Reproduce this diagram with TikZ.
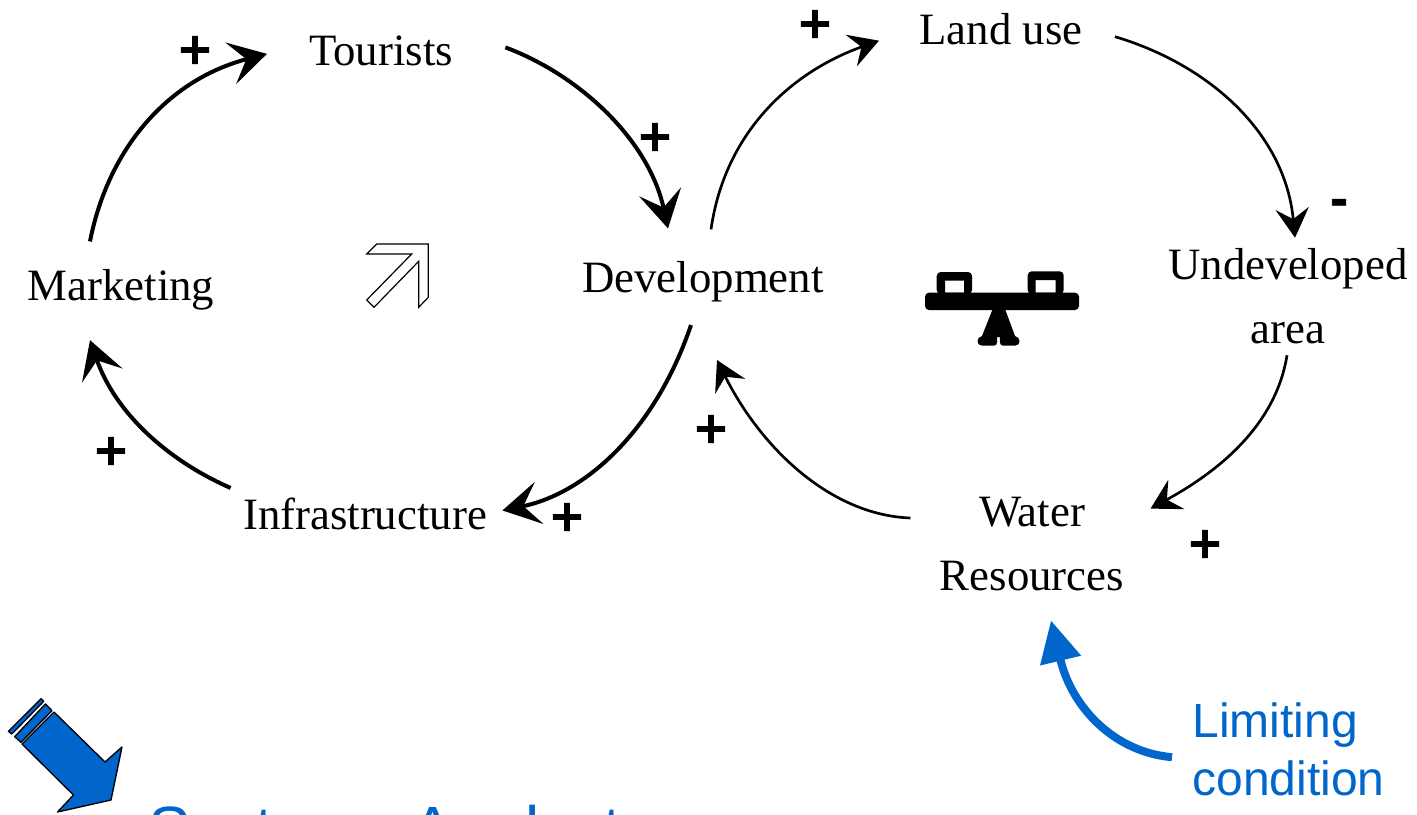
\documentclass[tikz,border=0pt]{standalone}
\usepackage{fontspec}
\setmainfont{Liberation Serif}
\newfontfamily\labelsans{Liberation Sans}
\newfontfamily\signsans[FakeBold=1.5]{DejaVu Sans}
\usetikzlibrary{arrows.meta}
\definecolor{limitblue}{RGB}{0,102,204}
\tikzset{every picture/.style={line width=0.75pt}}
\tikzset{
	varnode/.style={inner sep=0.75pt,font=\fontsize{33.6}{48}\selectfont,align=center},
	signnode/.style={inner sep=0pt,font=\signsans\bfseries\fontsize{33}{40}\selectfont},
	bluenode/.style={inner sep=0pt,text=limitblue,align=left},
	loopthick/.style={line width=3pt,-{Stealth[length=28pt,width=32pt,inset=12pt]}},
	loopthin/.style={line width=2pt,-{Stealth[length=22pt,width=25pt,inset=8pt]}}
}

\begin{document}
\begin{tikzpicture}[x=0.75pt,y=0.75pt,yscale=-1,xscale=1]
	\useasboundingbox (0,0) rectangle (1417,814);
	\clip (0,0) rectangle (1417,814);

	%Variables
	\node [varnode,anchor=base] (tourists) at (381,65) {Tourists};
	\node [varnode,anchor=base] (landuse) at (1001,44) {Land use};
	\node [varnode,anchor=base] (marketing) at (121,300) {Marketing};
	\node [varnode,anchor=base] (development) at (703,292) {Development};
	\node [varnode,anchor=base] (infrastructure) at (365,529) {Infrastructure};
	\node [varnode] (undeveloped) at (1288,296) {Undeveloped\\area};
	\node [varnode] (water) at (1032,544) {Water\\Resources};

	%Signs
	\node [signnode] (signa) at (195,50) {+};
	\node [signnode] (signb) at (655,137) {+};
	\node [signnode] (signc) at (815,24) {+};
	\node [signnode] (signd) at (111,451) {+};
	\node [signnode] (signe) at (567,517) {+};
	\node [signnode] (signf) at (711,429) {+};
	\node [signnode] (signg) at (1205,544) {+};
	\node [signnode] (signh) at (1339,207) {-};

	%Left loop
	\draw [loopthick] ([shift={(-31,-26)}]marketing.north) .. controls +(18,-92) and +(-100,26) .. ([shift={(-114,20)}]tourists.north);
	\draw [loopthick] ([shift={(51,-3)}]tourists.east) .. controls +(75,28) and +(-19,-88) .. ([shift={(-35,-31)}]development.north);
	\draw [loopthick] ([shift={(-12,22)}]development.south) .. controls +(-36,106) and +(83,-17) .. ([shift={(14,-3)}]infrastructure.east);
	\draw [loopthick] ([shift={(-11,-8)}]infrastructure.north west) .. controls +(-64,-28) and +(25,72) .. ([shift={(-31,29)}]marketing.south);

	%Right loop
	\draw [loopthin] ([shift={(8,-30)}]development.north) .. controls +(14,-98) and +(-87,31) .. ([shift={(-39,12)}]landuse.west);
	\draw [loopthin] ([shift={(31,8)}]landuse.east) .. controls +(94,28) and +(-10,-105) .. ([shift={(7,-9)}]undeveloped.north);
	\draw [loopthin] ([shift={(-1,10)}]undeveloped.south) .. controls +(-12,75) and +(60,-33) .. ([shift={(25,13)}]water.north east);
	\draw [loopthin] ([shift={(-28,-26)}]water.west) .. controls +(-80,-3) and +(44,88) .. ([shift={(14,57)}]development.south);

	%Shape: Hollow arrow
	\draw [line width=0.9pt,line join=miter] (376.7,244) -- (428.3,244) -- (428.3,297.3) -- (418.7,307.3) -- (418.7,261.3) -- (374,307.3) -- (366.7,300) -- (411.7,254) -- (366.7,254) -- cycle ;

	%Shape: Seesaw
	\fill [even odd rule,rounded corners=3pt] (936.7,294) -- (936.7,272) -- (972,272) -- (972,294) -- cycle [sharp corners] (945,280.7) -- (964,280.7) -- (964,292.7) -- (945,292.7) -- cycle ;
	\fill [even odd rule,rounded corners=3pt] (1027.7,294) -- (1027.7,271.3) -- (1063.7,271.3) -- (1063.7,294) -- cycle [sharp corners] (1035.7,280) -- (1055.7,280) -- (1055.7,292.7) -- (1035.7,292.7) -- cycle ;
	\fill [rounded corners=3pt] (925,292.7) rectangle (1079,310) ;
	\fill (992.7,309) -- (1005,309) -- (1015,336) .. controls (1021,337) and (1021,345.7) .. (1015,345.7) -- (1003,345.7) .. controls (999,345.7) and (1000,340) .. (1000,337) -- (997,337) .. controls (997,340) and (998,345.7) .. (994,345.7) -- (982,345.7) .. controls (976,345.7) and (976,337) .. (982,336) -- cycle ;

	%Shape: Blue pencil arrow
	\filldraw [fill=limitblue,line width=1pt,line join=round] (54,712) -- (105,762) -- (122,747) -- (111,800) -- (57.5,812) -- (73.5,795) -- (22,744) -- cycle ;
	\filldraw [fill=limitblue,line width=1pt,line join=round] (45.4,704) -- (52,710.7) -- (21,742.3) -- (14.7,736.7) -- cycle ;
	\filldraw [fill=limitblue,line width=1pt,line join=round] (41.2,698.7) -- (43.7,701.3) -- (11.8,734) -- (8.4,731.3) -- cycle ;

	%Blue labels
	\node [bluenode,anchor=north west,font=\labelsans\fontsize{36}{43.6}\selectfont] (limiting) at (1192,702.5) {Limiting\\condition};
	\node [bluenode,anchor=base west,font=\labelsans\fontsize{48}{58}\selectfont] (systems) at (148,851) {Systems Analyst};
	\draw [limitblue,line width=6pt,-{Triangle[length=31pt,width=30pt]}] ([shift={(-20,7.5)}]limiting.west) .. controls +(-57,-5) and +(21,88) .. ([shift={(19,28)}]water.south);
\end{tikzpicture}
\end{document}
